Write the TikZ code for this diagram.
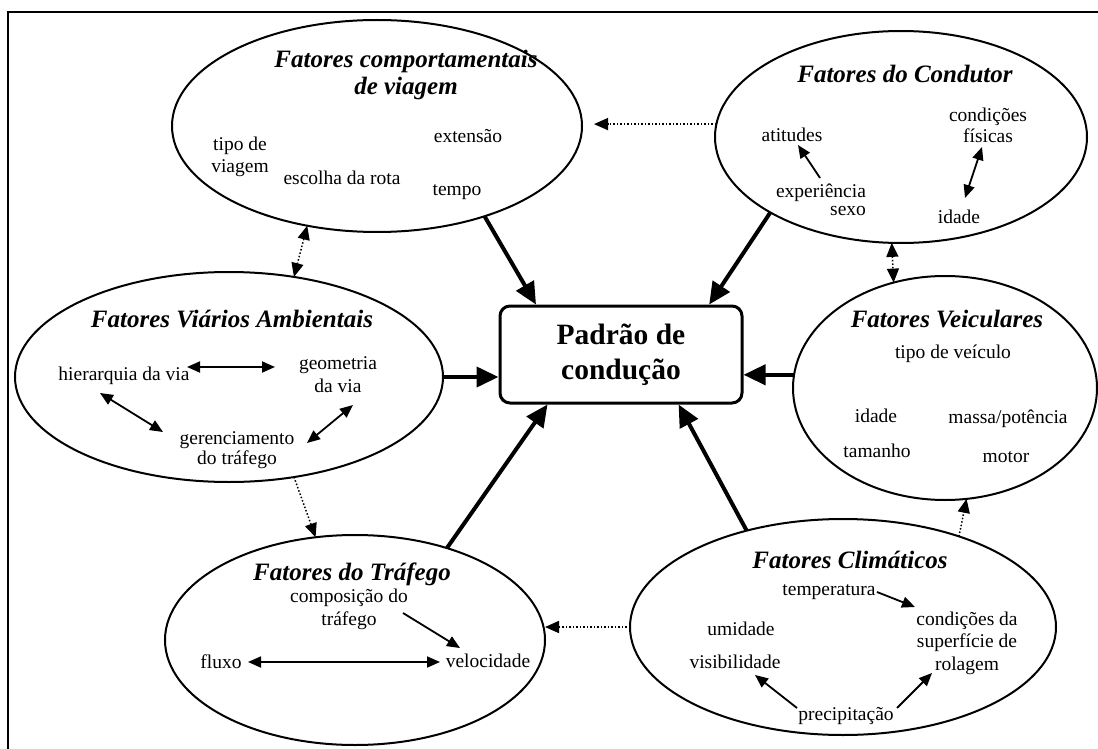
\documentclass[tikz,border=0pt]{standalone}
\usepackage{fontspec}
\setmainfont{Liberation Serif}
\usetikzlibrary{shapes.geometric,arrows.meta,calc}
\begin{document}
\begin{tikzpicture}[x=1pt,y=-1pt,
  ell/.style={draw,ellipse,line width=2pt,inner sep=0pt,outer sep=0pt},
  ttl/.style={font=\fontsize{25}{27}\selectfont\bfseries\itshape,anchor=base,align=center,inner sep=0pt},
  itm/.style={font=\fontsize{19.5}{22.5}\selectfont,anchor=base,align=center,inner sep=0pt},
  mainarr/.style={line width=4pt,-{Triangle[length=22pt,width=20pt]}},
  inarr/.style={line width=1.8pt,-{Triangle[length=13pt,width=11pt]}},
  inarrb/.style={line width=1.8pt,{Triangle[length=13pt,width=11pt]}-{Triangle[length=13pt,width=11pt]}},
  dotarr/.style={line width=1.5pt,dotted,-{Triangle[length=14pt,width=12pt]}},
  dotarrb/.style={line width=1.5pt,dotted,{Triangle[length=14pt,width=12pt]}-{Triangle[length=14pt,width=12pt]}}
]
\useasboundingbox (0,0) rectangle (1098,749);
\fill[white] (0,0) rectangle (1098,749);
% frame
\draw[line width=2.5pt] (8,749) -- (8,12) -- (1098,12);

% ellipses
\node[ell,minimum width=410pt,minimum height=212pt] (e1) at (377,126) {};
\node[ell,minimum width=372pt,minimum height=212pt] (e2) at (901,137) {};
\node[ell,minimum width=428pt,minimum height=210pt] (e3) at (229,377) {};
\node[ell,minimum width=304pt,minimum height=224pt] (e4) at (945,388) {};
\node[ell,minimum width=380pt,minimum height=210pt] (e5) at (355,640) {};
\node[ell,minimum width=426pt,minimum height=216pt] (e6) at (843,627) {};

% center box
\node[draw,line width=3pt,rounded corners=10pt,minimum width=242pt,minimum height=97pt,
  font=\fontsize{29.5}{35}\selectfont\bfseries,align=center] (box) at (621,354.5) {Padrão de\\condução};

% e1 texts (multi-line nodes: base = last line's baseline)
\node[ttl] (t1) at (406,95) {Fatores comportamentais\\de viagem};
\node[itm] (tipo) at (240,173) {tipo de\\viagem};
\node[itm] (rota) at (342,185) {escolha da rota};
\node[itm] (ext) at (468,143) {extensão};
\node[itm] (tempo) at (457,195) {tempo};

% e2 texts
\node[ttl] (t2) at (905,83) {Fatores do Condutor};
\node[itm] (atit) at (792,142) {atitudes};
\node[itm,font=\fontsize{19.5}{21}\selectfont] (cond) at (988,143) {condições\\físicas};
\node[itm,align=right,font=\fontsize{19.5}{18}\selectfont] (exp) at (821,215) {experiência\\sexo};
\node[itm] (idade1) at (959,223) {idade};

% e3 texts
\node[ttl] (t3) at (232,327) {Fatores Viários Ambientais};
\node[itm] (hier) at (124,380) {hierarquia da via};
\node[itm] (geom) at (338,392) {geometria\\da via};
\node[itm,font=\fontsize{19.5}{20}\selectfont] (ger) at (237,464) {gerenciamento\\do tráfego};

% e4 texts
\node[ttl] (t4) at (947,327) {Fatores Veiculares};
\node[itm] (tipov) at (953,358) {tipo de veículo};
\node[itm] (idade2) at (876,422) {idade};
\node[itm] (massa) at (1008,423) {massa/potência};
\node[itm] (tam) at (877,457) {tamanho};
\node[itm] (motor) at (1006,462) {motor};

% e5 texts
\node[ttl] (t5) at (352,580) {Fatores do Tráfego};
\node[itm] (comp) at (349,625) {composição do\\tráfego};
\node[itm] (fluxo) at (221,668) {fluxo};
\node[itm] (vel) at (488,667) {velocidade};

% e6 texts
\node[ttl] (t6) at (850,568) {Fatores Climáticos};
\node[itm] (temp) at (829,595) {temperatura};
\node[itm] (csup) at (967,670) {condições da\\superfície de\\rolagem};
\node[itm] (umid) at (741,635) {umidade};
\node[itm] (vis) at (735,668) {visibilidade};
\node[itm] (prec) at (846,720) {precipitação};

% inner arrow end points
\coordinate (expA) at (820,178);  \coordinate (atitA) at (798,145);
\coordinate (condA) at (982,147); \coordinate (idadeA) at (965,198);
\coordinate (hierR) at (187,367); \coordinate (geomL) at (275,367);
\coordinate (hierB) at (100,393); \coordinate (gerL) at (163,432);
\coordinate (geomB) at (353,405); \coordinate (gerR) at (307,443);
\coordinate (compA) at (403,613); \coordinate (velA) at (460,648);
\coordinate (fluxoR) at (248,662); \coordinate (velL) at (440,662);
\coordinate (tempA) at (877,592); \coordinate (csupA) at (915,607);
\coordinate (precL) at (797,708); \coordinate (visA) at (755,675);
\coordinate (precR) at (897,708); \coordinate (csupB) at (932,673);

\draw[inarr] (expA) -- (atitA);
\draw[inarrb] (condA) -- (idadeA);
\draw[inarrb] (hierR) -- (geomL);
\draw[inarrb] (hierB) -- (gerL);
\draw[inarrb] (geomB) -- (gerR);
\draw[inarr] (compA) -- (velA);
\draw[inarrb] (fluxoR) -- (velL);
\draw[inarr] (tempA) -- (csupA);
\draw[inarr] (precL) -- (visA);
\draw[inarr] (precR) -- (csupB);

% main arrows
\draw[mainarr] (e1.-40) -- ($(box.north west)!0.153!(box.north east)$);
\draw[mainarr] (e2.-150) -- ($(box.north west)!0.86!(box.north east)$);
\draw[mainarr] (e3.east) -- (e3.east -| box.west);
\draw[mainarr] (e4.175) -- (e4.175 -| box.east);
\draw[mainarr] (e5.45) -- ($(box.south west)!0.2!(box.south east)$);
\draw[mainarr] (e6.135) -- ($(box.south west)!0.735!(box.south east)$);

% dotted arrows
\draw[dotarr,shorten >=12pt] (e2.176) -- (e2.176 -| e1.east);
\draw[dotarrb] (e1.-125) -- (e3.57);
\draw[dotarrb] (e2.-95) -- (e4.116);
\draw[dotarr] (e3.-57) -- (e5.111);
\draw[dotarr] (e6.38) -- (e4.-79);
\draw[dotarr] (e6.west) -- (e6.west -| e5.east);
\end{tikzpicture}
\end{document}
